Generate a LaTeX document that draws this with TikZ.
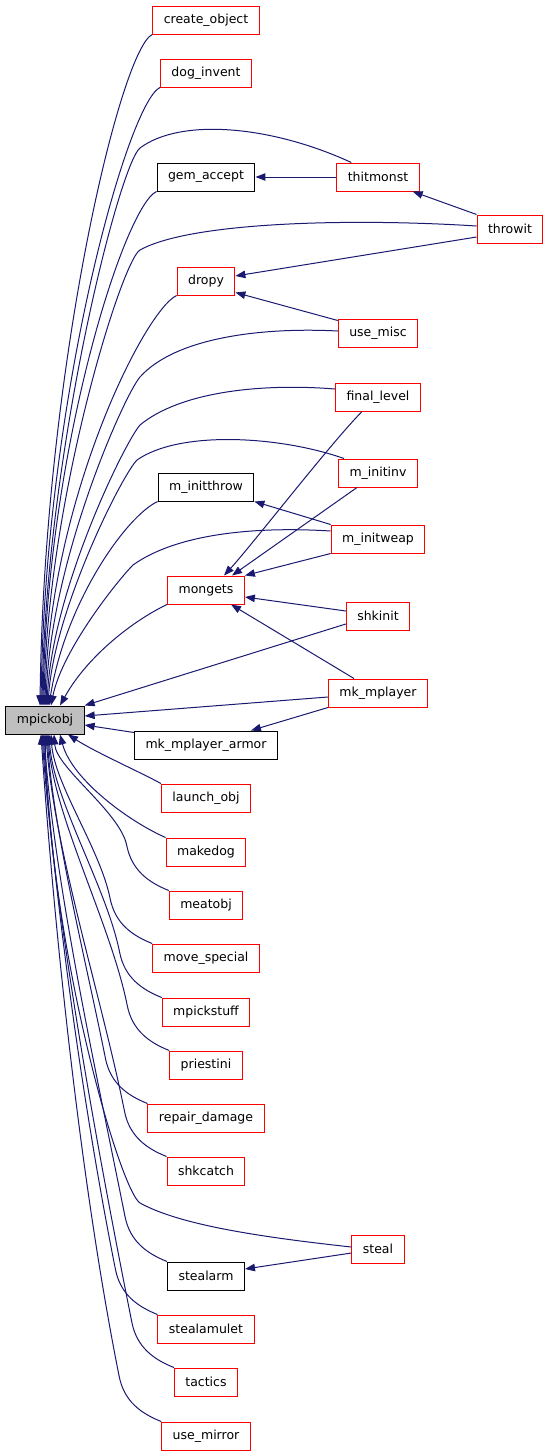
\documentclass[tikz,border=0pt]{standalone}
\usepackage{fontspec}
\setmainfont{DejaVu Sans}
\usepackage{tikz}
\usetikzlibrary{arrows.meta, positioning, calc}
\definecolor{edgeblue}{HTML}{191970}
\tikzset{
  func/.style={rectangle, draw=red, fill=white, line width=1pt, inner xsep=11pt,
               inner ysep=0pt, minimum height=28pt, font=\fontsize{12.5}{12.5}\selectfont},
  doc/.style={func, draw=black},
  root/.style={func, draw=black, fill=gray!50},
  call/.style={-{Triangle[length=10pt, width=7.5pt]}, draw=edgeblue, line width=1pt}
}
\begin{document}
\begin{tikzpicture}[x=1pt, y=-1pt]
  \useasboundingbox (0,0) rectangle (549,1456);
  \node[root] (mpickobj) at (45,720) {mpickobj};
  \foreach \st/\nm/\txt/\y/\dx/\cx in {func/createobject/create\_object/20/-5/44,
      func/doginvent/dog\_invent/73/-4/45, doc/gemaccept/gem\_accept/177/-2/47,
      func/dropy/dropy/281/0/49, doc/minitthrow/m\_initthrow/487/4/65,
      func/mongets/mongets/590/15/88} {
    \node[\st] (\nm) at (206,\y) {\txt};
    \draw[call] (\nm.south west) .. controls +(-32,15) and (\cx,{(720+\y)/2})
      .. ([xshift=\dx pt]mpickobj.north);
  }
  \node[func] (thitmonst) at (378,177) {thitmonst};
  \node[func] (throwit) at (510,229) {throwit};
  \node[func] (usemisc) at (378,333) {use\_misc};
  \node[func] (finallevel) at (378,397) {final\_level};
  \node[func] (minitinv) at (378,473) {m\_initinv};
  \node[func] (minitweap) at (378,539) {m\_initweap};
  \node[func] (shkinit) at (378,616) {shkinit};
  \node[func] (mkmplayer) at (378,693) {mk\_mplayer};
  \node[doc] (mkarmor) at (206,745) {mk\_mplayer\_armor};
  \node[func] (launchobj) at (206,798) {launch\_obj};
  \node[func] (makedog) at (206,852) {makedog};
  \node[func] (steal) at (378,1249) {steal};
  \draw[call] (launchobj.north west) .. controls (140,772) and (95,752)
    .. ([xshift=23pt]mpickobj.south);
  \draw[call] (makedog.north west) .. controls (130,822) and (72,780)
    .. ([xshift=15pt]mpickobj.south);
  \foreach \st/\nm/\txt/\y/\dx in {func/meatobj/meatobj/905/9,
      func/movespecial/move\_special/958/6, func/mpickstuff/mpickstuff/1012/4,
      func/priestini/priestini/1065/3, func/repairdamage/repair\_damage/1118/2,
      func/shkcatch/shkcatch/1171/1, doc/stealarm/stealarm/1276/-1,
      func/stealamulet/stealamulet/1329/-2, func/tactics/tactics/1382/-3,
      func/usemirror/use\_mirror/1436/-4} {
    \node[\st] (\nm) at (206,\y) {\txt};
    \draw[call] (\nm.north west) .. controls +(-20,-8) and +(5,25)
      .. ($(\nm.north west)+(-42,-45)$)
      .. controls +({-0.06*(\y-793)},{-0.3*(\y-793)}) and +({0.02*(\y-793)},{0.3*(\y-793)})
      .. ([xshift=\dx pt]mpickobj.south);
  }
  \draw[call] ([xshift=15pt]thitmonst.north west) .. controls (270,125) and (180,118) .. (140,148)
    .. controls (120,163) and (46,450) .. ([xshift=-3pt]mpickobj.north);
  \draw[call] ([yshift=3pt]throwit.west) .. controls (350,218) and (190,222) .. (140,250)
    .. controls (122,260) and (47,500) .. ([xshift=-1pt]mpickobj.north);
  \draw[call] ([yshift=2pt]usemisc.west) .. controls (260,327) and (175,338) .. (140,377)
    .. controls (125,394) and (50,560) .. ([xshift=1pt]mpickobj.north);
  \draw[call] ([yshift=8pt]finallevel.west) .. controls (260,383) and (180,392) .. (140,425)
    .. controls (125,442) and (52,590) .. ([xshift=2pt]mpickobj.north);
  \draw[call] ([xshift=6pt]minitinv.north west) .. controls (280,436) and (180,430) .. (137,460)
    .. controls (122,475) and (54,610) .. ([xshift=3pt]mpickobj.north);
  \draw[call] ([yshift=8pt]minitweap.west) .. controls (250,526) and (175,535) .. (133,565)
    .. controls (118,580) and (62,650) .. ([xshift=6pt]mpickobj.north);
  \draw[call] ([yshift=2pt]steal.west) .. controls (260,1237) and (180,1225) .. (140,1203)
    .. controls (120,1190) and (50,950) .. (mpickobj.south);
  \draw[call] ([yshift=-8pt]shkinit.west) -- (mpickobj.north east);
  \draw[call] ([yshift=-4pt]mkmplayer.west) -- ([yshift=4pt]mpickobj.east);
  \draw[call] ([yshift=-2pt]mkarmor.north west) -- ([yshift=-5pt]mpickobj.east);
  \draw[call] (thitmonst.west) -- (gemaccept.east);
  \draw[call] (throwit.north west) -- ([xshift=-7pt]thitmonst.south east);
  \draw[call] ([yshift=-8pt]throwit.west) -- ([yshift=5pt]dropy.east);
  \draw[call] ([yshift=-2pt]usemisc.north west) -- ([yshift=3pt]dropy.south east);
  \draw[call] ([xshift=-16pt]finallevel.south) .. controls (330,444) and (252,545)
    .. ([xshift=18pt]mongets.north);
  \draw[call] ([xshift=-21pt]minitinv.south) -- ([xshift=26pt]mongets.north);
  \draw[call] (minitweap.south west) -- (mongets.north east);
  \draw[call] (minitweap.north west) -- (minitthrow.south east);
  \draw[call] ([yshift=5pt]shkinit.west) -- ([yshift=-7pt]mongets.east);
  \draw[call] ([xshift=-24pt]mkmplayer.north) -- ([xshift=25pt]mongets.south);
  \draw[call] (mkmplayer.south west) -- ([xshift=-27pt]mkarmor.north east);
  \draw[call] ([yshift=-4pt]steal.west) -- ([yshift=7pt]stealarm.east);
\end{tikzpicture}
\end{document}
